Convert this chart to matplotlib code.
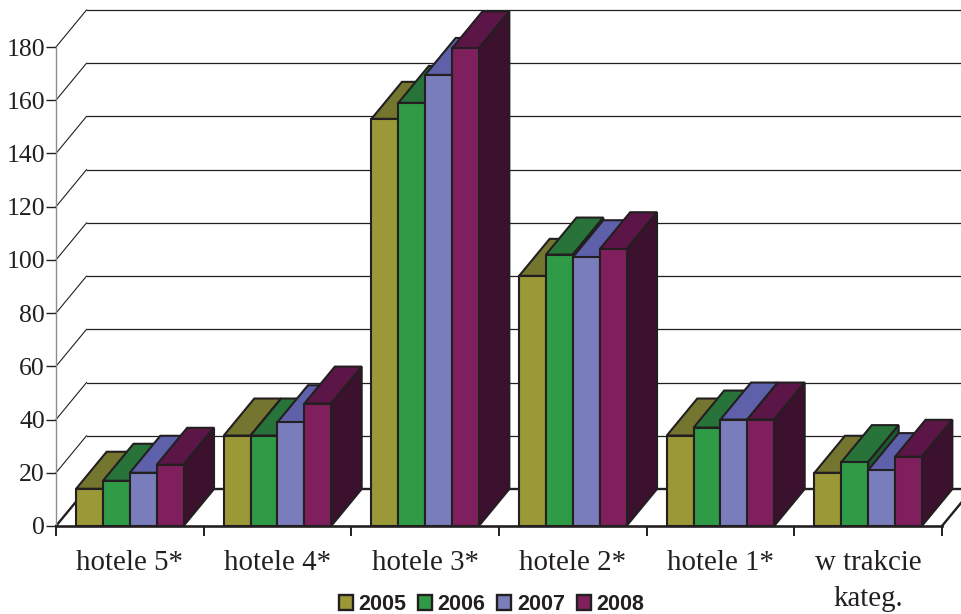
import numpy as np
import matplotlib
matplotlib.use('Agg')
import matplotlib.pyplot as plt
from matplotlib.patches import Patch

categories = ['hotele 5*', 'hotele 4*', 'hotele 3*', 'hotele 2*', 'hotele 1*', 'w trakcie\nkateg.']
years = ['2005', '2006', '2007', '2008']
v2005 = [14, 34, 153, 94, 34, 20]
v2006 = [17, 34, 159, 102, 37, 24]
v2007 = [20, 39, 169.5, 101, 40, 21]
v2008 = [23, 46, 179.5, 104, 40, 26]
series = [v2005, v2006, v2007, v2008]
y_ticks = [0, 20, 40, 60, 80, 100, 120, 140, 160, 180]

front_cols = ['#9B9838', '#2F9B47', '#7A7DBB', '#7F1F5E']
top_cols = ['#74752F', '#27733A', '#5E60AA', '#5C1547']
side_cols = ['#4F4F20', '#1D5A2E', '#3C3E80', '#3B112D']
edge = '#231F20'

W, H = 962, 614
fig = plt.figure(figsize=(W / 100, H / 100), dpi=100)
# front plane of the fake 3d box, in pixels: x 56-942, y 47-526
ax = fig.add_axes([56 / W, 1 - 526 / H, 886 / W, 479 / H])
ax.set_xlim(0, 6)
ax.set_ylim(0, 180)
ax.patch.set_visible(False)

dx = 30.5 / (886 / 6)
dy = 37 / (479 / 180)
bar_w = 0.1818
bar_lw = 1.5

# walls
for v in y_ticks:
    ax.plot([0, dx], [v, v + dy], color=edge, lw=0.8, clip_on=False, zorder=1)
    ax.plot([dx, 6.2], [v + dy, v + dy], color=edge, lw=1.7 if v == 0 else 0.9,
            clip_on=False, zorder=1)
ax.plot([0, dx], [0, dy], color=edge, lw=1.7, clip_on=False, zorder=1.5)
ax.plot([6, 6 + dx], [0, dy], color=edge, lw=1.7, clip_on=False, zorder=1.5)

x = np.arange(len(categories)) + 0.5 - 2 * bar_w
for i, vals in enumerate(series):
    xs = x + i * bar_w
    z = 3 + i
    for xi, v in zip(xs, vals):
        ax.fill([xi, xi + bar_w, xi + bar_w + dx, xi + dx], [v, v, v + dy, v + dy],
                facecolor=top_cols[i], edgecolor=edge, lw=bar_lw, clip_on=False, zorder=z, joinstyle='miter')
        ax.fill([xi + bar_w, xi + bar_w, xi + bar_w + dx, xi + bar_w + dx], [0, v, v + dy, dy],
                facecolor=side_cols[i], edgecolor=edge, lw=bar_lw, clip_on=False, zorder=z, joinstyle='miter')
    ax.bar(xs, vals, width=bar_w, align='edge', color=front_cols[i], edgecolor=edge,
           linewidth=bar_lw, clip_on=False, zorder=z + 0.5)

for s in ['top', 'right']:
    ax.spines[s].set_visible(False)
ax.spines['left'].set_color('#8C8C8C')
ax.spines['left'].set_linewidth(1.0)
ax.spines['bottom'].set_color(edge)
ax.spines['bottom'].set_linewidth(1.9)
ax.spines['bottom'].set_zorder(10)

serif = 'Liberation Serif'
ax.set_yticks(y_ticks)
ax.set_yticklabels([str(v) for v in y_ticks], family=serif, fontsize=18.5, color=edge)
ax.tick_params(axis='y', length=7, width=1.0, color=edge, pad=1)
ax.set_xticks(np.arange(7))
ax.set_xticklabels([])
ax.tick_params(axis='x', which='major', length=7, width=1.4, color=edge)
ax.set_xticks(np.arange(6) + 0.5, minor=True)
ax.set_xticklabels(categories, minor=True, family=serif, fontsize=20.8, color=edge, linespacing=1.5)
ax.tick_params(axis='x', which='minor', length=0, pad=17)

handles = [Patch(facecolor=c, edgecolor=edge, linewidth=1.7) for c in front_cols]
fig.legend(handles, years, ncol=4, frameon=False, loc='center', bbox_to_anchor=(491.5 / W, 1 - 604.5 / H),
           prop={'family': 'Liberation Sans', 'weight': 'bold', 'size': 15.5},
           labelcolor=edge, handlelength=0.65, handleheight=0.65, handletextpad=0.25,
           columnspacing=0.55, borderpad=0, borderaxespad=0)

fig.savefig('out.png', dpi=100)
